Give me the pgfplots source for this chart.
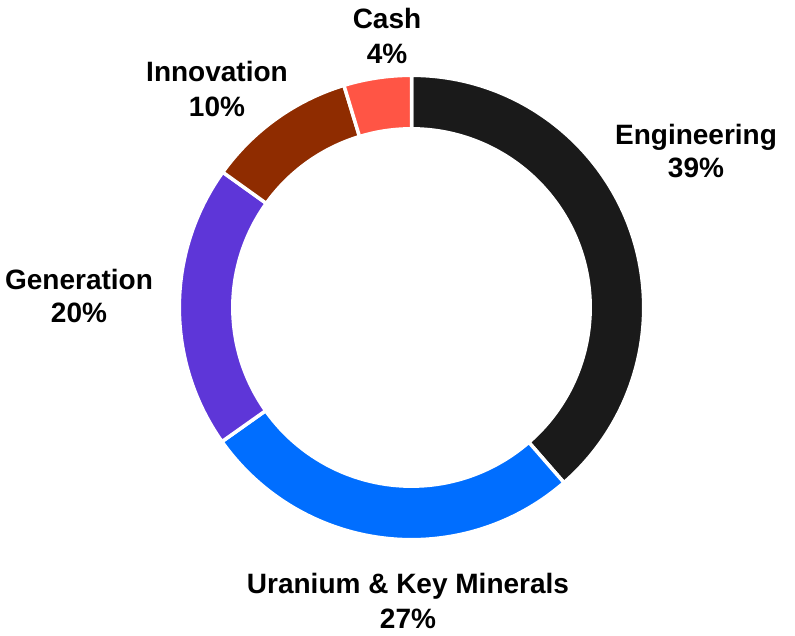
\documentclass[border=0pt]{standalone}
\usepackage{pgfplots}
\usepackage{pgfplotstable}
\pgfplotsset{compat=1.18}
\usepackage{fontspec}
\setmainfont{Liberation Sans}

\definecolor{c0}{HTML}{1A1A1A}
\definecolor{c1}{HTML}{006EFF}
\definecolor{c2}{HTML}{5E36D8}
\definecolor{c3}{HTML}{8F2C00}
\definecolor{c4}{HTML}{FF5545}

% share of each segment, clockwise from the top
\pgfplotstableread{
idx value
0 38.6
1 26.6
2 19.7
3 10.4
4 4.7
}\donut

\begin{document}
\begin{tikzpicture}
\def\cum{0}
\pgfplotsforeachungrouped \i in {0,...,4}{%
  \pgfplotstablegetelem{\i}{value}\of\donut
  \pgfmathsetmacro\a{90-3.6*\cum}%
  \pgfmathsetmacro\cum{\cum+\pgfplotsretval}%
  \pgfmathsetmacro\b{90-3.6*\cum}%
  \expandafter\xdef\csname angA\i\endcsname{\a}%
  \expandafter\xdef\csname angB\i\endcsname{\b}%
}
\begin{axis}[
  scale only axis, width=795pt, height=635pt,
  xmin=0, xmax=795, ymin=0, ymax=635,
  hide axis, clip=false,
  font=\bfseries\fontsize{28}{33}\selectfont,
]
\path (axis cs:0,0) rectangle (axis cs:795,635);
\pgfplotsinvokeforeach{0,...,4}{
  \filldraw[fill=c#1, draw=white, line width=3.5pt, line join=miter]
    (axis cs:411.5,327.5) ++(\csname angA#1\endcsname:232.2pt)
    arc[start angle=\csname angA#1\endcsname, end angle=\csname angB#1\endcsname, radius=232.2pt]
    -- ++(\csname angB#1\endcsname:-53.5pt)
    arc[start angle=\csname angB#1\endcsname, end angle=\csname angA#1\endcsname, radius=178.7pt]
    -- cycle;
}
\node[anchor=base] at (axis cs:387,606) {Cash};
\node[anchor=base] at (axis cs:387,571) {4\%};
\node[anchor=base] at (axis cs:696,490) {Engineering};
\node[anchor=base] at (axis cs:696,457) {39\%};
\node[anchor=base] at (axis cs:79,345) {Generation};
\node[anchor=base] at (axis cs:79,312) {20\%};
\node[anchor=base] at (axis cs:217,553) {Innovation};
\node[anchor=base] at (axis cs:217,518) {10\%};
\node[anchor=base] at (axis cs:408,42) {Uranium \& Key Minerals};
\node[anchor=base] at (axis cs:408,7) {27\%};
\end{axis}
\end{tikzpicture}
\end{document}
